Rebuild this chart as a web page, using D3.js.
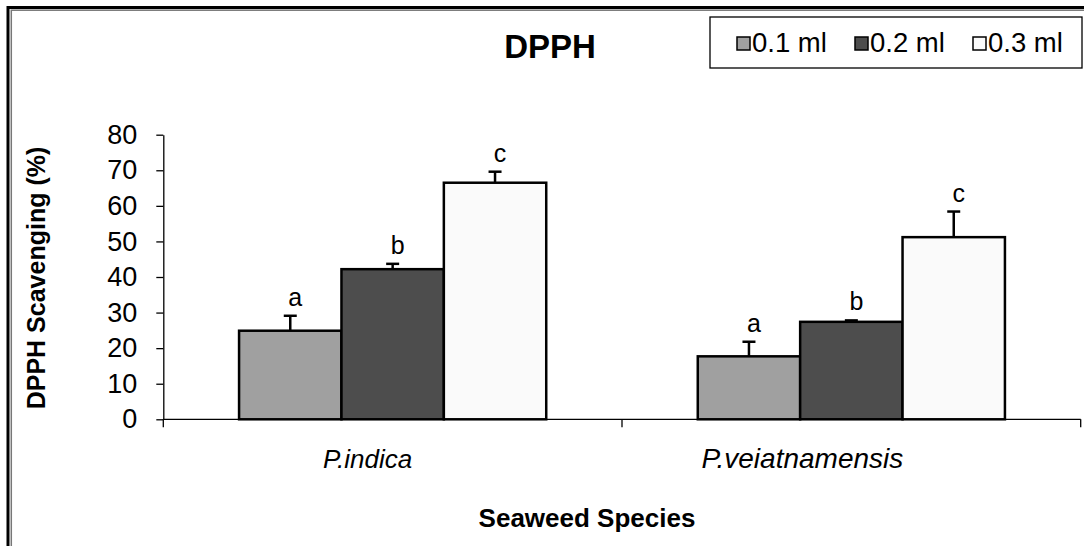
<!DOCTYPE html>
<html>
<head>
<meta charset="utf-8">
<script src="https://cdn.jsdelivr.net/npm/d3@7"></script>
<style>
  html, body { margin: 0; padding: 0; background: #fff; }
  svg { display: block; font-family: "Liberation Sans", Arial, sans-serif; }
</style>
</head>
<body>
<svg id="chart" width="1084" height="546"></svg>
<script>
const categories = ["P.indica", "P.veiatnamensis"];
const series = ["0.1 ml", "0.2 ml", "0.3 ml"];
const values = [
  [24.9, 42.2, 66.5],
  [17.7, 27.4, 51.2]
];
const errors = [
  [4.2, 1.5, 3.1],
  [4.1, 0.4, 7.2]
];
const letters = [
  ["a", "b", "c"],
  ["a", "b", "c"]
];
const yTicks = [0, 10, 20, 30, 40, 50, 60, 70, 80];
const colors = ["#a0a0a0", "#4d4d4d", "#fafafa"];

(function () {
const svg = d3.select("#chart");
const W = 1084, H = 546;
const pLeft = 163.3, pRight = 1080.7, pTop = 134.7, pBottom = 419.3;

// Frame (double line on top and left)
svg.append("rect").attr("x", 8).attr("y", 7.5).attr("width", W + 20).attr("height", H + 20)
  .attr("fill", "none").attr("stroke", "#000").attr("stroke-width", 3);
svg.append("rect").attr("x", 11.3).attr("y", 10.2).attr("width", W + 20).attr("height", H + 20)
  .attr("fill", "none").attr("stroke", "#777").attr("stroke-width", 1.5);

const x0 = d3.scaleBand().domain(categories).range([pLeft, pRight]).padding(0);
const x1 = d3.scaleBand().domain(series).range([0, x0.bandwidth()]).paddingInner(0).paddingOuter(0.74);
const y = d3.scaleLinear().domain([0, 80]).range([pBottom, pTop]);

// Y axis
const yAxis = svg.append("g").attr("transform", `translate(${pLeft},0)`)
  .call(d3.axisLeft(y).tickValues(yTicks).tickSize(7).tickSizeOuter(0).tickPadding(19));
yAxis.select(".domain").attr("stroke", "#000").attr("stroke-width", 1.3);
yAxis.selectAll(".tick line").attr("stroke", "#000").attr("stroke-width", 1.3);
yAxis.selectAll(".tick text").attr("font-size", 27).attr("fill", "#000")
  .attr("font-family", "Liberation Sans, Arial, sans-serif");

// X axis with ticks at band boundaries
const xAxisG = svg.append("g").attr("transform", `translate(0,${pBottom})`);
xAxisG.append("line").attr("x1", pLeft).attr("x2", pRight).attr("y1", 0).attr("y2", 0)
  .attr("stroke", "#000").attr("stroke-width", 1.3);
const boundaries = categories.map(c => x0(c)).concat([x0(categories[categories.length - 1]) + x0.bandwidth()]);
xAxisG.selectAll("line.bt").data(boundaries).enter().append("line").attr("class", "bt")
  .attr("x1", d => d).attr("x2", d => d).attr("y1", 0).attr("y2", 8)
  .attr("stroke", "#000").attr("stroke-width", 1.3);

// Category labels
const labelShift = [-25, -49];
const labelSize = [26, 28];
svg.selectAll("text.cat").data(categories).enter().append("text").attr("class", "cat")
  .attr("x", (d, i) => x0(d) + x0.bandwidth() / 2 + labelShift[i])
  .attr("y", 468)
  .attr("text-anchor", "middle")
  .attr("font-size", (d, i) => labelSize[i]).attr("font-style", "italic").attr("fill", "#000")
  .text(d => d);

// Bars
const groups = svg.selectAll("g.grp").data(categories).enter().append("g").attr("class", "grp")
  .attr("transform", d => `translate(${x0(d)},0)`);

groups.each(function (cat, ci) {
  const g = d3.select(this);
  const data = series.map((s, si) => ({ s, si, v: values[ci][si], e: errors[ci][si], l: letters[ci][si] }));
  g.selectAll("line.err").data(data).enter().append("line").attr("class", "err")
    .attr("x1", d => x1(d.s) + x1.bandwidth() / 2).attr("x2", d => x1(d.s) + x1.bandwidth() / 2)
    .attr("y1", d => y(d.v)).attr("y2", d => y(d.v + d.e))
    .attr("stroke", "#000").attr("stroke-width", 2.5);
  g.selectAll("line.cap").data(data).enter().append("line").attr("class", "cap")
    .attr("x1", d => x1(d.s) + x1.bandwidth() / 2 - 6.5).attr("x2", d => x1(d.s) + x1.bandwidth() / 2 + 6.5)
    .attr("y1", d => y(d.v + d.e)).attr("y2", d => y(d.v + d.e))
    .attr("stroke", "#000").attr("stroke-width", 2.5);
  g.selectAll("rect.bar").data(data).enter().append("rect").attr("class", "bar")
    .attr("x", d => x1(d.s)).attr("width", x1.bandwidth())
    .attr("y", d => y(d.v)).attr("height", d => y(0) - y(d.v))
    .attr("fill", d => colors[d.si]).attr("stroke", "#000").attr("stroke-width", 2.5);
  g.selectAll("text.lt").data(data).enter().append("text").attr("class", "lt")
    .attr("x", d => x1(d.s) + x1.bandwidth() / 2 + 5)
    .attr("y", d => y(d.v + d.e) - 10)
    .attr("text-anchor", "middle").attr("font-size", 25).attr("fill", "#000")
    .text(d => d.l);
});

// Title
svg.append("text").attr("x", 550).attr("y", 58).attr("text-anchor", "middle")
  .attr("font-size", 33).attr("font-weight", "bold").attr("fill", "#000").text("DPPH");

// Y title
svg.append("text").attr("transform", `translate(45,278) rotate(-90)`).attr("text-anchor", "middle")
  .attr("font-size", 25).attr("font-weight", "bold").attr("fill", "#000").text("DPPH Scavenging (%)");

// X title
svg.append("text").attr("x", 587).attr("y", 527).attr("text-anchor", "middle")
  .attr("font-size", 26).attr("font-weight", "bold").attr("fill", "#000").text("Seaweed Species");

// Legend
const leg = svg.append("g");
leg.append("rect").attr("x", 710).attr("y", 17).attr("width", 372).attr("height", 51)
  .attr("fill", "#fff").attr("stroke", "#000").attr("stroke-width", 1.3);
const legX = [737, 855, 973];
const items = leg.selectAll("g.li").data(series).enter().append("g").attr("class", "li")
  .attr("transform", (d, i) => `translate(${legX[i]},37)`);
items.append("rect").attr("x", 0).attr("y", 0).attr("width", 13).attr("height", 13)
  .attr("fill", (d, i) => colors[i]).attr("stroke", "#000").attr("stroke-width", 1.5);
items.append("text").attr("x", 15).attr("y", 14.5).attr("font-size", 27.5).attr("fill", "#000").text(d => d);
})();
</script>
</body>
</html>
